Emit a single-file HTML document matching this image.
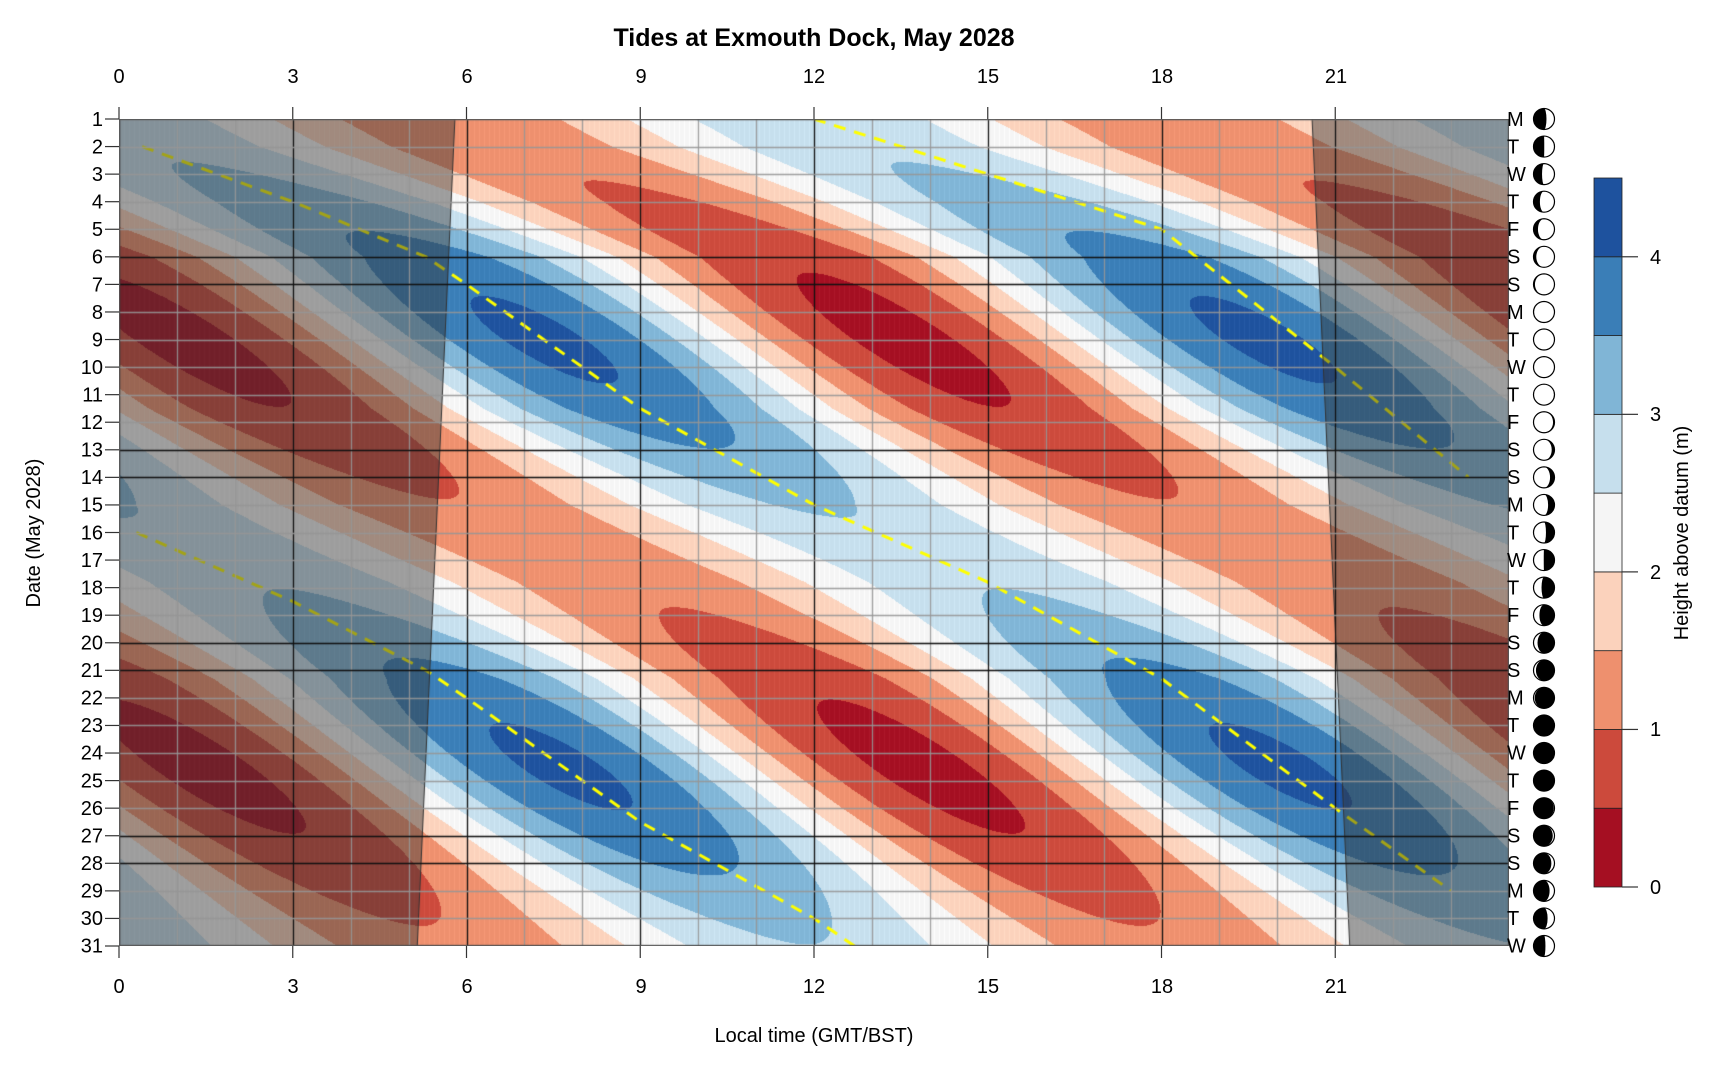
<!DOCTYPE html>
<html><head><meta charset="utf-8">
<style>
html,body{margin:0;padding:0;background:#fff;width:1720px;height:1080px;overflow:hidden}
#c{position:absolute;left:119px;top:119px}
svg{position:absolute;left:0;top:0}
text{font-family:"Liberation Sans",sans-serif;fill:#000}
</style></head><body>
<canvas id="c" width="1390" height="827"></canvas>
<svg id="s" width="1720" height="1080" xmlns="http://www.w3.org/2000/svg">
<text x="814" y="46" font-size="25" font-weight="bold" text-anchor="middle">Tides at Exmouth Dock, May 2028</text>
<g font-size="20" text-anchor="middle">
<text x="119" y="83">0</text><text x="293" y="83">3</text><text x="467" y="83">6</text><text x="641" y="83">9</text><text x="814" y="83">12</text><text x="988" y="83">15</text><text x="1162" y="83">18</text><text x="1336" y="83">21</text>
<text x="119" y="993">0</text><text x="293" y="993">3</text><text x="467" y="993">6</text><text x="641" y="993">9</text><text x="814" y="993">12</text><text x="988" y="993">15</text><text x="1162" y="993">18</text><text x="1336" y="993">21</text>
</g>
<text x="814" y="1042" font-size="20" text-anchor="middle">Local time (GMT/BST)</text>
<text transform="translate(40,533) rotate(-90)" font-size="20" text-anchor="middle">Date (May 2028)</text>
<g id="days" font-size="20" text-anchor="end">
<text x="103" y="126">1</text><text x="103" y="153.5">2</text><text x="103" y="181">3</text><text x="103" y="208.6">4</text><text x="103" y="236.2">5</text><text x="103" y="263.7">6</text><text x="103" y="291.3">7</text><text x="103" y="318.8">8</text><text x="103" y="346.4">9</text><text x="103" y="374">10</text><text x="103" y="401.5">11</text><text x="103" y="429">12</text><text x="103" y="456.6">13</text><text x="103" y="484.2">14</text><text x="103" y="511.7">15</text><text x="103" y="539.3">16</text><text x="103" y="566.8">17</text><text x="103" y="594.4">18</text><text x="103" y="622">19</text><text x="103" y="649.5">20</text><text x="103" y="677">21</text><text x="103" y="704.6">22</text><text x="103" y="732.2">23</text><text x="103" y="759.7">24</text><text x="103" y="787.3">25</text><text x="103" y="814.8">26</text><text x="103" y="842.4">27</text><text x="103" y="870">28</text><text x="103" y="897.5">29</text><text x="103" y="925">30</text><text x="103" y="952.6">31</text>
</g>
<g font-size="20">
<text x="1507" y="126">M</text><text x="1507" y="153.5">T</text><text x="1507" y="181">W</text><text x="1507" y="208.6">T</text><text x="1507" y="236.2">F</text><text x="1507" y="263.7">S</text><text x="1507" y="291.3">S</text><text x="1507" y="318.8">M</text><text x="1507" y="346.4">T</text><text x="1507" y="374">W</text><text x="1507" y="401.5">T</text><text x="1507" y="429">F</text><text x="1507" y="456.6">S</text><text x="1507" y="484.2">S</text><text x="1507" y="511.7">M</text><text x="1507" y="539.3">T</text><text x="1507" y="566.8">W</text><text x="1507" y="594.4">T</text><text x="1507" y="622">F</text><text x="1507" y="649.5">S</text><text x="1507" y="677">S</text><text x="1507" y="704.6">M</text><text x="1507" y="732.2">T</text><text x="1507" y="759.7">W</text><text x="1507" y="787.3">T</text><text x="1507" y="814.8">F</text><text x="1507" y="842.4">S</text><text x="1507" y="870">S</text><text x="1507" y="897.5">M</text><text x="1507" y="925">T</text><text x="1507" y="952.6">W</text>
</g>
<g id="moons"></g>
<g id="cb"></g>
<g font-size="20">
<text x="1650" y="894">0</text><text x="1650" y="736">1</text><text x="1650" y="579">2</text><text x="1650" y="421">3</text><text x="1650" y="264">4</text>
</g>
<text transform="translate(1688,533) rotate(-90)" font-size="20" text-anchor="middle">Height above datum (m)</text>
</svg>
<script>
var W=1390,H=827,x0=119,y0=119;
var cols=[[165,15,34],[204,74,60],[238,144,110],[251,210,188],[245,245,245],[198,223,237],[128,181,214],[58,126,183],[30,82,158]];
function dy(d){return (d-1)*H/30;}
function hx(h){return h*W/24;}
var B=[[-2,-3.17],[2,0.4],[4,3],[6,5.3],[7,6],[11.5,9],[15,12],[17.8,15],[21.3,18],[26,21],[29,23],[34,26.3]];
function Q(d){for(var i=0;i<B.length-1;i++){if(d<=B[i+1][0]){var a=B[i],b=B[i+1];return a[1]+(b[1]-a[1])*(d-a[0])/(b[0]-a[0]);}}return 0;}
var ctx=document.getElementById('c').getContext('2d');
var img=ctx.createImageData(W,H),D=img.data;
for(var y=0;y<H;y++){var d=1+y/(H-1)*30;var q=Q(d);
var s=Math.cos(2*Math.PI*(d-9)/15.5);
var A=1.4+0.5*s, M=2.12+0.1*s;
for(var x=0;x<W;x++){var t=x/W*24;var th=2*Math.PI*(t-q)/12.42;
var h=M+A*Math.cos(th);
var k=Math.floor(h/0.5);if(k<0)k=0;if(k>8)k=8;var c=cols[k];var i=(y*W+x)*4;
var st=(x%5==0)?8:0;
D[i]=Math.min(255,c[0]+st);D[i+1]=Math.min(255,c[1]+st);D[i+2]=Math.min(255,c[2]+st);D[i+3]=255;}}
ctx.putImageData(img,0,0);
ctx.strokeStyle='#ffff00';ctx.lineWidth=3;ctx.setLineDash([12,9]);
function pl(p){ctx.beginPath();p.forEach(function(v,i){var X=hx(v[0]),Y=dy(v[1]);i?ctx.lineTo(X,Y):ctx.moveTo(X,Y);});ctx.stroke();}
pl([[12,1],[15,3],[18,5],[21,10],[23.3,14]]);
pl([[0.4,2],[3,4],[5.3,6],[6,7],[9,11.5],[12,15],[15,17.8],[18,21.3],[21,26],[23,29]]);
pl([[0.3,16],[3,18.5],[5.3,21],[6,22],[9,26.5],[12,30],[12.7,31]]);
ctx.setLineDash([]);
ctx.fillStyle='rgba(50,50,50,0.45)';ctx.strokeStyle='#333';ctx.lineWidth=1;
ctx.beginPath();ctx.moveTo(0,0);ctx.lineTo(hx(5.8),0);ctx.lineTo(hx(5.15),H);ctx.lineTo(0,H);ctx.closePath();ctx.fill();
ctx.beginPath();ctx.moveTo(hx(5.8),0);ctx.lineTo(hx(5.15),H);ctx.stroke();
ctx.beginPath();ctx.moveTo(hx(20.6),0);ctx.lineTo(hx(21.25),H);ctx.lineTo(W,H);ctx.lineTo(W,0);ctx.closePath();ctx.fill();
ctx.beginPath();ctx.moveTo(hx(20.6),0);ctx.lineTo(hx(21.25),H);ctx.stroke();
ctx.lineWidth=1.3;
for(var h=0;h<=24;h++){ctx.strokeStyle=(h%3==0&&h<24)?'#111':'rgba(150,150,150,0.9)';var X=Math.round(hx(h))+0.5;ctx.beginPath();ctx.moveTo(X,0);ctx.lineTo(X,H);ctx.stroke();}
var wk={6:1,7:1,13:1,14:1,20:1,21:1,27:1,28:1};
for(var d=1;d<=31;d++){ctx.strokeStyle=wk[d]?'#111':'rgba(150,150,150,0.9)';var Y=Math.round(dy(d))+0.5;ctx.beginPath();ctx.moveTo(0,Y);ctx.lineTo(W,Y);ctx.stroke();}
ctx.strokeStyle='#555';ctx.strokeRect(0.5,0.5,W-1,H-1);
var ns='http://www.w3.org/2000/svg',S=document.getElementById('s');
function el(n,a,p){var e=document.createElementNS(ns,n);for(var k in a)e.setAttribute(k,a[k]);(p||S).appendChild(e);return e;}
for(var h=0;h<24;h+=3){var X=x0+hx(h);el('line',{x1:X,y1:107,x2:X,y2:119,stroke:'#333','stroke-width':1.2});el('line',{x1:X,y1:946,x2:X,y2:958,stroke:'#333','stroke-width':1.2});}
for(var d=1;d<=31;d++){var Y=y0+dy(d);el('line',{x1:105,y1:Y,x2:119,y2:Y,stroke:'#333','stroke-width':1.2});}
var Mo=document.getElementById('moons');
for(var d=1;d<=31;d++){var cx=1544,cy=y0+dy(d),r=10.5;
var ph=((d-9.5)/29.53)%1;if(ph<0)ph+=1;var k=(1-Math.cos(2*Math.PI*ph))/2;
el('circle',{cx:cx,cy:cy,r:r,fill:'#fff',stroke:'#000','stroke-width':1.2},Mo);
var rx=Math.abs(1-2*k)*r,p;
if(ph<0.5){p='M'+cx+','+(cy-r)+' A'+r+','+r+' 0 0 1 '+cx+','+(cy+r)+' A'+rx+','+r+' 0 0 '+(k>0.5?1:0)+' '+cx+','+(cy-r)+'Z';}
else{p='M'+cx+','+(cy-r)+' A'+r+','+r+' 0 0 0 '+cx+','+(cy+r)+' A'+rx+','+r+' 0 0 '+(k>0.5?0:1)+' '+cx+','+(cy-r)+'Z';}
el('path',{d:p,fill:'#000'},Mo);}
var C=document.getElementById('cb'),bt=887,bh=709/9;
for(var i=0;i<9;i++){var c=cols[i];el('rect',{x:1594,y:bt-(i+1)*bh,width:28,height:bh,fill:'rgb('+c.join(',')+')',stroke:'#222','stroke-width':0.8},C);}
for(var v=0;v<=4;v++){var Y=bt-v*2*bh;el('line',{x1:1622,y1:Y,x2:1638,y2:Y,stroke:'#333','stroke-width':1.2},C);}
</script>
</body></html>
